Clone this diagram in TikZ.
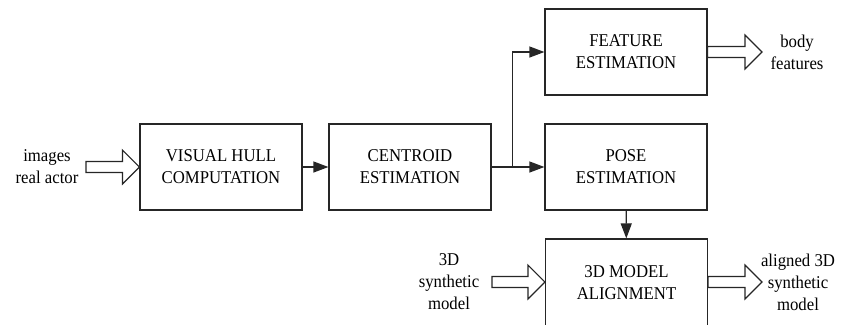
\documentclass[tikz,border=0pt]{standalone}
\usepackage{fontspec}
\setmainfont{Liberation Serif}
\newfontfamily\labelfont[FakeStretch=0.93]{Liberation Serif}
\usetikzlibrary{arrows.meta,calc}

% hollow block arrow from a start point (#1) to a tip (#2) on the same level
\newcommand\hollowarrow[2]{%
  \draw[hollow] ($(#1)+(0,-5.5)$) -- ($(#2)+(-17,-5.5)$) -- ($(#2)+(-17,-17)$)
    -- (#2) -- ($(#2)+(-17,17)$) -- ($(#2)+(-17,5.5)$) -- ($(#1)+(0,5.5)$) -- cycle;}

\begin{document}
\begin{tikzpicture}[x=1bp,y=-1bp,
  every node/.style={font=\labelfont\fontsize{18bp}{22bp}\selectfont, align=center, inner sep=0pt},
  block/.style={draw=black!85, line width=1.2bp, minimum width=162bp, minimum height=86bp},
  link/.style={draw=black!85, line width=1.2bp, -{Triangle[length=15bp,width=11bp]}},
  hollow/.style={draw=black!85, line width=1.2bp, fill=white, line join=miter}]
\useasboundingbox (0,0) rectangle (842,324);
\clip (0,0) rectangle (842,324);

% processing blocks
\node[block] (V) at (221,167) {VISUAL HULL\\COMPUTATION};
\node[block] (C) at (410,167) {CENTROID\\ESTIMATION};
\node[block] (F) at (626,52) {FEATURE\\ESTIMATION};
\node[block] (P) at (626,167) {POSE\\ESTIMATION};
\node[block, minimum height=88bp] (A) at (626.5,283) {3D MODEL\\ALIGNMENT};

% inputs and outputs
\node (in)   at (47,167)  {images\\real actor};
\node (out1) at (797,52)  {body\\features};
\node (in2)  at (449,282) {3D\\synthetic\\model};
\node (out2) at (798,282) {aligned 3D\\synthetic\\model};

\coordinate (inS)     at (86,167);
\coordinate (featTip) at (762,52);
\coordinate (algS)    at (492,282);
\coordinate (algTip)  at (762,282);

% data flow
\draw[link] (V) -- (C);
\draw[link] (C.east) -- (P.west);
\draw[link] (C.east) -- ++(21,0) |- (F.west);
\draw[link] (P) -- (A);

% block arrows
\hollowarrow{inS}{V.west}
\hollowarrow{F.east}{featTip}
\hollowarrow{algS}{A.west |- algS}
\hollowarrow{A.east |- algTip}{algTip}
\end{tikzpicture}
\end{document}
